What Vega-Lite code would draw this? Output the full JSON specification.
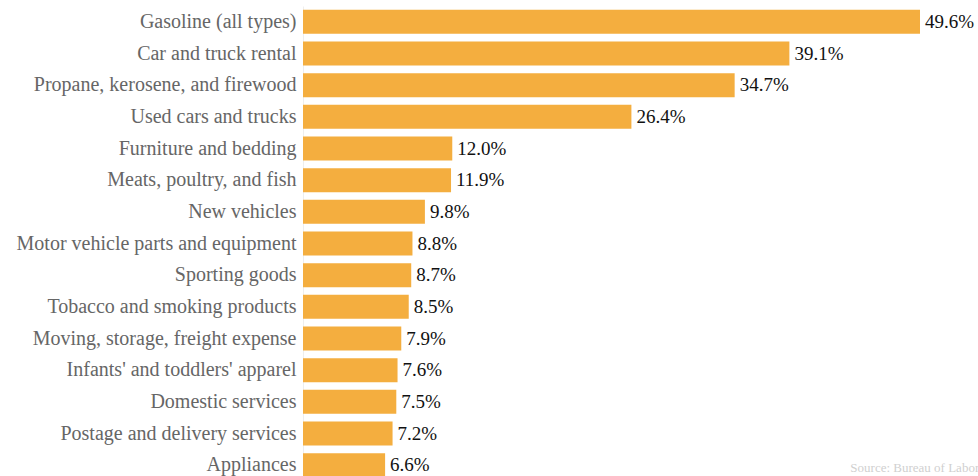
{
  "$schema": "https://vega.github.io/schema/vega-lite/v6.json",
  "autosize": "none",
  "width": 617,
  "height": 475,
  "padding": {"left": 303, "top": 6, "right": 58, "bottom": 0},
  "background": "white",
  "config": {"view": {"stroke": null}, "font": "Liberation Serif"},
  "data": {"values": [
    {"category": "Gasoline (all types)", "value": 49.6},
    {"category": "Car and truck rental", "value": 39.1},
    {"category": "Propane, kerosene, and firewood", "value": 34.7},
    {"category": "Used cars and trucks", "value": 26.4},
    {"category": "Furniture and bedding", "value": 12.0},
    {"category": "Meats, poultry, and fish", "value": 11.9},
    {"category": "New vehicles", "value": 9.8},
    {"category": "Motor vehicle parts and equipment", "value": 8.8},
    {"category": "Sporting goods", "value": 8.7},
    {"category": "Tobacco and smoking products", "value": 8.5},
    {"category": "Moving, storage, freight expense", "value": 7.9},
    {"category": "Infants' and toddlers' apparel", "value": 7.6},
    {"category": "Domestic services", "value": 7.5},
    {"category": "Postage and delivery services", "value": 7.2},
    {"category": "Appliances", "value": 6.6}
  ]},
  "encoding": {
    "y": {"field": "category", "type": "nominal", "sort": null,
      "scale": {"paddingInner": 0.24, "paddingOuter": 0.12},
      "axis": {"title": null, "ticks": false, "domain": true, "domainColor": "#eeeeee", "labelColor": "#666666", "labelFontSize": 20, "labelPadding": 7, "labelLimit": 0, "labelFont": "Liberation Serif"}},
    "x": {"field": "value", "type": "quantitative", "scale": {"domain": [0, 49.6], "nice": false}, "axis": null}
  },
  "layer": [
    {"mark": {"type": "bar", "color": "#F4AE3F"}},
    {"mark": {"type": "text", "align": "left", "dx": 5, "fontSize": 19, "color": "#111111", "baseline": "middle"},
     "transform": [{"calculate": "format(datum.value, '.1f') + '%'", "as": "label"}],
     "encoding": {"text": {"field": "label", "type": "nominal"}}},
    {"mark": {"type": "text", "align": "left", "baseline": "middle", "dy": 3, "fontSize": 13, "color": "#d0d0d0", "clip": false},
     "transform": [{"filter": "datum.category === 'Appliances'"}],
     "encoding": {"x": {"datum": 44.0}, "text": {"value": "Source: Bureau of Labor Statistics"}}}
  ]
}
